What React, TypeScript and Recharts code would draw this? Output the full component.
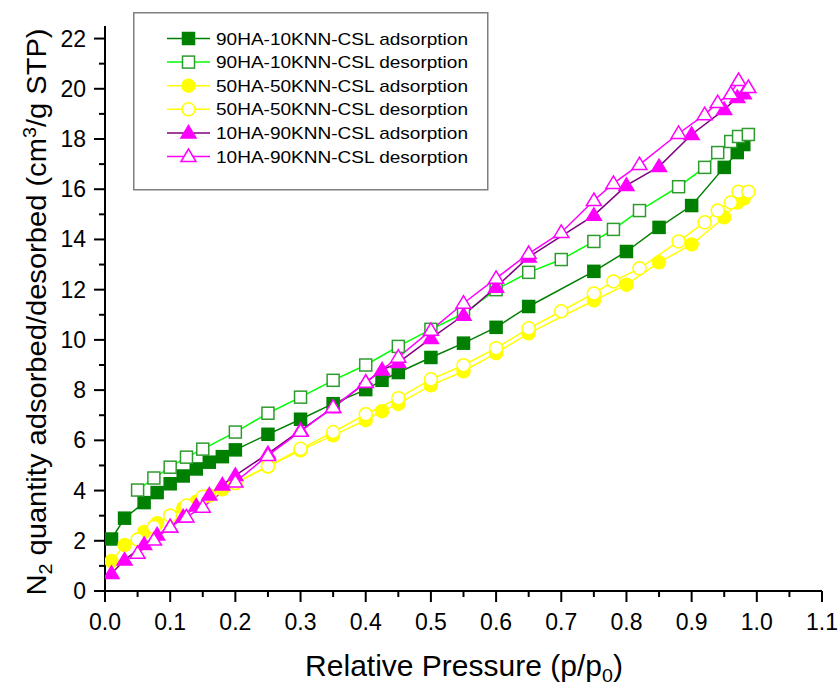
import { LineChart, Line, XAxis, YAxis, Legend } from 'recharts'

// relative pressure steps
const adsX = [0.01, 0.03, 0.06, 0.08, 0.1, 0.12, 0.14, 0.16, 0.18, 0.2, 0.25, 0.3, 0.35, 0.4, 0.425, 0.45, 0.5, 0.55, 0.6, 0.65, 0.75, 0.8, 0.85, 0.9, 0.95, 0.97, 0.98]
const desX = [0.05, 0.075, 0.1, 0.125, 0.15, 0.2, 0.25, 0.3, 0.35, 0.4, 0.45, 0.5, 0.55, 0.6, 0.65, 0.7, 0.75, 0.78, 0.82, 0.88, 0.92, 0.94, 0.96, 0.972, 0.987]

// quantity adsorbed / desorbed (cm3/g STP)
const ha90Ads = [2.07, 2.9, 3.52, 3.92, 4.27, 4.58, 4.86, 5.13, 5.35, 5.62, 6.24, 6.84, 7.46, 8.02, 8.39, 8.7, 9.3, 9.87, 10.5, 11.33, 12.73, 13.52, 14.48, 15.35, 16.87, 17.46, 17.78]
const ha90Des = [4.02, 4.5, 4.93, 5.33, 5.65, 6.33, 7.08, 7.72, 8.39, 9.0, 9.74, 10.42, 11.05, 12.0, 12.69, 13.2, 13.92, 14.4, 15.15, 16.1, 16.87, 17.46, 17.9, 18.1, 18.18]
const ha50Ads = [1.19, 1.83, 2.35, 2.7, 3.0, 3.3, 3.55, 3.8, 4.05, 4.3, 4.95, 5.6, 6.2, 6.8, 7.16, 7.45, 8.19, 8.75, 9.47, 10.26, 11.57, 12.2, 13.09, 13.8, 14.88, 15.47, 15.63]
const ha50Des = [2.05, 2.55, 3.0, 3.4, 3.75, 4.3, 4.97, 5.66, 6.33, 7.04, 7.68, 8.43, 8.99, 9.67, 10.46, 11.14, 11.85, 12.33, 12.85, 13.92, 14.68, 15.15, 15.47, 15.9, 15.9]
const ha10Ads = [0.7, 1.23, 1.85, 2.23, 2.55, 2.95, 3.38, 3.82, 4.22, 4.6, 5.47, 6.4, 7.3, 8.3, 8.8, 9.1, 10.06, 10.98, 12.1, 13.3, 14.96, 16.15, 16.9, 18.18, 19.17, 19.65, 19.8]
const ha10Des = [1.5, 2.03, 2.55, 2.95, 3.34, 4.34, 5.4, 6.36, 7.32, 8.31, 9.31, 10.38, 11.46, 12.45, 13.44, 14.28, 15.55, 16.23, 16.98, 18.22, 18.97, 19.45, 19.8, 20.33, 20.05]

const xTicks = [0, 0.05, 0.1, 0.15, 0.2, 0.25, 0.3, 0.35, 0.4, 0.45, 0.5, 0.55, 0.6, 0.65, 0.7, 0.75, 0.8, 0.85, 0.9, 0.95, 1.0, 1.05, 1.1]
const yTicks = [0, 1, 2, 3, 4, 5, 6, 7, 8, 9, 10, 11, 12, 13, 14, 15, 16, 17, 18, 19, 20, 21, 22]

const FONT = '"Liberation Sans", Arial, sans-serif'

type Shape = 'square' | 'circle' | 'triangle'

const zip = (xs: number[], ys: number[]) => xs.map((x, i) => ({ x, y: ys[i] }))

const series = [
  { name: '90HA-10KNN-CSL adsorption', data: zip(adsX, ha90Ads), line: '#008000', shape: 'square' as Shape, fill: '#008000', stroke: '#008000' },
  { name: '90HA-10KNN-CSL desorption', data: zip(desX, ha90Des), line: '#00FF00', shape: 'square' as Shape, fill: '#FFFFFF', stroke: '#2E9B2E' },
  { name: '50HA-50KNN-CSL adsorption', data: zip(adsX, ha50Ads), line: '#FFFF00', shape: 'circle' as Shape, fill: '#FFFF00', stroke: '#FFFF00' },
  { name: '50HA-50KNN-CSL desorption', data: zip(desX, ha50Des), line: '#FFFF00', shape: 'circle' as Shape, fill: '#FFFFFF', stroke: '#FFFF00' },
  { name: '10HA-90KNN-CSL adsorption', data: zip(adsX, ha10Ads), line: '#800080', shape: 'triangle' as Shape, fill: '#FF00FF', stroke: '#FF00FF' },
  { name: '10HA-90KNN-CSL desorption', data: zip(desX, ha10Des), line: '#FF00FF', shape: 'triangle' as Shape, fill: '#FFFFFF', stroke: '#FF00FF' },
]

const Marker = ({ shape, cx, cy, fill, stroke }: { shape: Shape; cx: number; cy: number; fill: string; stroke: string }) => {
  if (shape === 'square') {
    return <rect x={cx - 6} y={cy - 6} width={12} height={12} fill={fill} stroke={stroke} strokeWidth={1.5} />
  }
  if (shape === 'circle') {
    return <circle cx={cx} cy={cy} r={6.5} fill={fill} stroke={stroke} strokeWidth={1.5} />
  }
  return (
    <polygon
      points={`${cx},${cy - 7.5} ${cx - 7.5},${cy + 5} ${cx + 7.5},${cy + 5}`}
      fill={fill}
      stroke={stroke}
      strokeWidth={1.5}
    />
  )
}

const XTick = (props: any) => {
  const { x, y, payload } = props
  const major = Math.round(payload.value * 20) % 2 === 0
  return (
    <g>
      <line x1={x} y1={y} x2={x} y2={y + (major ? 11 : 6)} stroke="#000" strokeWidth={2} />
      {major && (
        <text x={x} y={y + 39} textAnchor="middle" fontSize={23} fontFamily={FONT} fill="#000">
          {payload.value.toFixed(1)}
        </text>
      )}
    </g>
  )
}

const YTick = (props: any) => {
  const { x, y, payload } = props
  const major = payload.value % 2 === 0
  return (
    <g>
      <line x1={x} y1={y} x2={x - (major ? 11 : 6)} y2={y} stroke="#000" strokeWidth={2} />
      {major && (
        <text x={x - 19} y={y + 8} textAnchor="end" fontSize={23} fontFamily={FONT} fill="#000">
          {payload.value}
        </text>
      )}
    </g>
  )
}

const XTitle = () => (
  <text transform="translate(464,676) scale(1.035,1)" textAnchor="middle" fontSize={29} fontFamily={FONT} fill="#000">
    Relative Pressure (p/p
    <tspan dy={6} fontSize={19}>0</tspan>
    <tspan dy={-6}>)</tspan>
  </text>
)

const YTitle = () => (
  <text transform="translate(46,312) rotate(-90) scale(1.04,1)" textAnchor="middle" fontSize={28} fontFamily={FONT} fill="#000">
    N
    <tspan dy={6} fontSize={19}>2</tspan>
    <tspan dy={-6}>{' quantity adsorbed/desorbed (cm'}</tspan>
    <tspan dy={-10} fontSize={19}>3</tspan>
    <tspan dy={10}>{'/g STP)'}</tspan>
  </text>
)

const LegendBox = () => (
  <svg width={356} height={179} style={{ display: 'block' }}>
    <rect x={0.75} y={0.75} width={354} height={177} fill="#fff" stroke="#7F7F7F" strokeWidth={1.5} />
    {series.map((s, i) => {
      const cy = 26.5 + i * 23.6
      return (
        <g key={s.name}>
          <line x1={34} y1={cy} x2={77} y2={cy} stroke={s.line} strokeWidth={1.5} />
          <Marker shape={s.shape} cx={55.5} cy={cy} fill={s.fill} stroke={s.stroke} />
          <text
            x={83}
            y={cy + 6}
            fontSize={17}
            fontFamily={FONT}
            fill="#000"
            textLength={252}
            lengthAdjust="spacingAndGlyphs"
          >
            {s.name}
          </text>
        </g>
      )
    })}
  </svg>
)

export default function App() {
  return (
    <div style={{ position: 'absolute', left: 0, top: 0, width: 840, height: 686, background: '#fff' }}>
      <LineChart width={840} height={686} margin={{ top: 26, right: 18, bottom: 65, left: 45 }} style={{ fontFamily: FONT }}>
        <XAxis
          dataKey="x"
          type="number"
          domain={[0, 1.1]}
          ticks={xTicks}
          interval={0}
          height={30}
          tickSize={0}
          tickMargin={0}
          tickLine={false}
          tick={<XTick />}
          axisLine={{ stroke: '#000', strokeWidth: 2 }}
          allowDataOverflow
          label={<XTitle />}
        />
        <YAxis
          type="number"
          domain={[0, 22.5]}
          ticks={yTicks}
          interval={0}
          width={60}
          tickSize={0}
          tickMargin={0}
          tickLine={false}
          tick={<YTick />}
          axisLine={{ stroke: '#000', strokeWidth: 2 }}
          allowDataOverflow
          label={<YTitle />}
        />
        <Legend
          layout="vertical"
          align="center"
          verticalAlign="middle"
          content={() => <LegendBox />}
          wrapperStyle={{ position: 'absolute', left: 133, top: 12, width: 356, height: 179 }}
        />
        {series.map((s) => (
          <Line
            key={s.name}
            name={s.name}
            data={s.data}
            dataKey="y"
            stroke={s.line}
            strokeWidth={1.5}
            isAnimationActive={false}
            activeDot={false}
            dot={(p: any) => (
              <Marker key={`${s.name}-${p.index}`} shape={s.shape} cx={p.cx} cy={p.cy} fill={s.fill} stroke={s.stroke} />
            )}
          />
        ))}
      </LineChart>
    </div>
  )
}
